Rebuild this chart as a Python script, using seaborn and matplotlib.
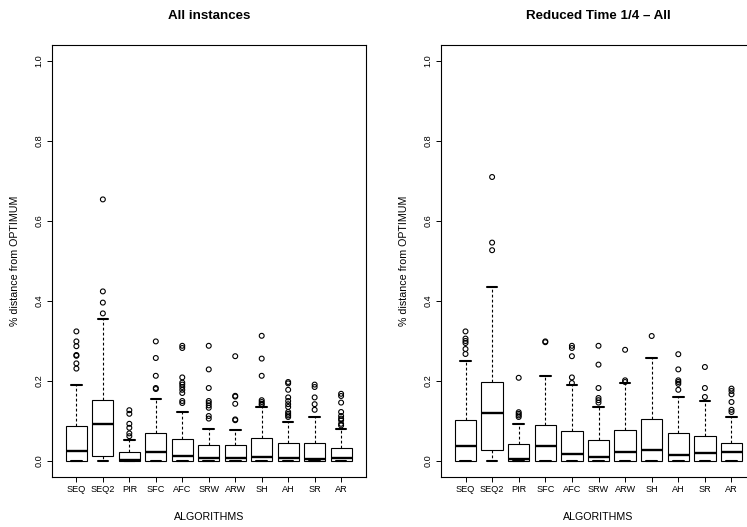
import numpy as np
import pandas as pd
import matplotlib
matplotlib.use("Agg")
import matplotlib.pyplot as plt
import seaborn as sns

# ---------------- data ----------------
algorithms = ["SEQ", "SEQ2", "PIR", "SFC", "AFC", "SRW", "ARW", "SH", "AH", "SR", "AR"]

# Panel 1: "All instances"  (box summaries)
all_whisker_low = [0.0, 0.0, 0.0, 0.0, 0.0, 0.0, 0.0, 0.0, 0.0, 0.0, 0.0]
all_q1 = [0.0, 0.0125, 0.0, 0.0, 0.0, 0.0, 0.0, 0.0, 0.0, 0.0, 0.0]
all_median = [0.024, 0.0925, 0.002, 0.0233, 0.0125, 0.0083, 0.0075, 0.010, 0.0075, 0.005, 0.0083]
all_q3 = [0.0867, 0.152, 0.0217, 0.070, 0.054, 0.041, 0.039, 0.0575, 0.044, 0.046, 0.0325]
all_whisker_high = [0.189, 0.356, 0.052, 0.156, 0.1225, 0.080, 0.0775, 0.136, 0.0975, 0.110, 0.079]
all_outliers = {
    "SEQ": [0.324, 0.299, 0.287, 0.265, 0.263, 0.244, 0.231],
    "SEQ2": [0.654, 0.424, 0.396, 0.369],
    "PIR": [0.127, 0.118, 0.093, 0.083, 0.069, 0.062],
    "SFC": [0.299, 0.2575, 0.213, 0.1825, 0.180],
    "AFC": [0.288, 0.2825, 0.209, 0.196, 0.191, 0.185, 0.178, 0.170, 0.150, 0.145],
    "SRW": [0.288, 0.229, 0.1825, 0.150, 0.145, 0.139, 0.133, 0.1125, 0.106],
    "ARW": [0.262, 0.163, 0.161, 0.143, 0.104, 0.102],
    "SH": [0.313, 0.256, 0.213, 0.152, 0.1475, 0.143, 0.140],
    "AH": [0.1975, 0.194, 0.178, 0.159, 0.150, 0.142, 0.135, 0.1225, 0.118, 0.114, 0.110],
    "SR": [0.191, 0.185, 0.159, 0.142, 0.128],
    "AR": [0.168, 0.1625, 0.146, 0.1225, 0.1125, 0.106, 0.102, 0.093, 0.089],
}

# Panel 2: "Reduced Time 1/4 - All"
red_whisker_low = [0.0, 0.0, 0.0, 0.0, 0.0, 0.0, 0.0, 0.0, 0.0, 0.0, 0.0]
red_q1 = [0.0, 0.0283, 0.0, 0.0, 0.0, 0.0, 0.0, 0.0, 0.0, 0.0, 0.0]
red_median = [0.0375, 0.120, 0.005, 0.0367, 0.0167, 0.0092, 0.0217, 0.0267, 0.015, 0.0208, 0.0217]
red_q3 = [0.1025, 0.197, 0.0433, 0.089, 0.076, 0.0533, 0.0775, 0.105, 0.070, 0.0625, 0.046]
red_whisker_high = [0.250, 0.435, 0.0917, 0.2125, 0.190, 0.135, 0.194, 0.2575, 0.160, 0.150, 0.110]
red_outliers = {
    "SEQ": [0.324, 0.306, 0.300, 0.295, 0.280, 0.2675],
    "SEQ2": [0.710, 0.546, 0.527],
    "PIR": [0.208, 0.122, 0.118, 0.114, 0.110],
    "SFC": [0.299, 0.297],
    "AFC": [0.288, 0.2825, 0.262, 0.209, 0.195],
    "SRW": [0.288, 0.241, 0.1825, 0.1575, 0.152, 0.146],
    "ARW": [0.278, 0.2017, 0.1975],
    "SH": [0.3125],
    "AH": [0.267, 0.229, 0.2017, 0.1975, 0.193, 0.178],
    "SR": [0.235, 0.1825, 0.160],
    "AR": [0.181, 0.175, 0.1667, 0.1475, 0.128, 0.1225],
}

y_ticks = [0.0, 0.2, 0.4, 0.6, 0.8, 1.0]
y_tick_labels = ["0.0", "0.2", "0.4", "0.6", "0.8", "1.0"]
titles = ["All instances", "Reduced Time 1/4 \u2013 All"]
x_label = "ALGORITHMS"
y_label = "% distance from OPTIMUM"

# ---------------- figure ----------------
sns.set_theme(style="white")
plt.rcParams["font.family"] = ["Liberation Sans", "DejaVu Sans"]

W, H = 747, 527
fig = plt.figure(figsize=(W / 100, H / 100), dpi=100)
fig.patch.set_facecolor("white")

ax_top_px, ax_bot_px = 45.0, 477.0
panels_px = [(51.5, 314.5), (440.5, 316.0)]


def box_frame(lo, q1, med, q3, hi):
    rows = []
    for i, alg in enumerate(algorithms):
        for v in (lo[i], q1[i], med[i], q3[i], hi[i]):
            rows.append({"alg": alg, "value": v})
    return pd.DataFrame(rows)


def out_frame(outs):
    rows = []
    for alg in algorithms:
        for v in outs.get(alg, []):
            rows.append({"alg": alg, "value": v})
    return pd.DataFrame(rows)


panel_data = [
    (all_whisker_low, all_q1, all_median, all_q3, all_whisker_high, all_outliers),
    (red_whisker_low, red_q1, red_median, red_q3, red_whisker_high, red_outliers),
]

for k, (left_px, width_px) in enumerate(panels_px):
    ax = fig.add_axes([left_px / W, (H - ax_bot_px) / H, width_px / W,
                       (ax_bot_px - ax_top_px) / H])
    ax.set_facecolor("white")
    lo, q1, med, q3, hi, outs = panel_data[k]
    bdf = box_frame(lo, q1, med, q3, hi)
    sns.boxplot(data=bdf, x="alg", y="value", order=algorithms, ax=ax,
                whis=(0, 100), showfliers=False, width=0.8,
                color="white", linecolor="black", linewidth=0.8,
                whiskerprops=dict(linestyle=(0, (2.5, 2.0)), linewidth=0.8),
                capprops=dict(linewidth=1.5),
                medianprops=dict(linewidth=1.7, color="black"))
    odf = out_frame(outs)
    sns.stripplot(data=odf, x="alg", y="value", order=algorithms, ax=ax,
                  jitter=False, size=3.5, color="black")
    for coll in ax.collections:
        coll.set_facecolor("none")
        coll.set_edgecolor("black")
        coll.set_linewidth(0.8)

    ax.set_xlim(-0.94, 10.94)
    ax.set_ylim(-0.04, 1.04)
    ax.set_yticks(y_ticks)
    ax.set_yticklabels(y_tick_labels, rotation=90, va="center")
    ax.set_xticks(range(len(algorithms)))
    ax.set_xticklabels(algorithms)
    ax.tick_params(axis="both", direction="out", length=3.6, width=0.7,
                   color="black", labelsize=6.6, labelcolor="black",
                   left=True, bottom=True)
    ax.tick_params(axis="x", pad=2.2)
    ax.tick_params(axis="y", pad=2.2)
    ax.set_xlabel("")
    ax.set_ylabel("")
    for s in ax.spines.values():
        s.set_visible(True)
        s.set_color("black")
        s.set_linewidth(0.8)
    ax.grid(False)

    hpx = ax_bot_px - ax_top_px
    ax.text(0.5, -(516.7 - ax_bot_px) / hpx, x_label, transform=ax.transAxes,
            ha="center", va="center", fontsize=7.7, color="black")
    ax.text(-36.5 / width_px, 0.5, y_label, transform=ax.transAxes,
            ha="center", va="center", rotation=90, fontsize=7.7, color="black")
    ax.text(0.5, 1 + (ax_top_px - 16.0) / hpx, titles[k], transform=ax.transAxes,
            ha="center", va="center", fontsize=9.6, fontweight="bold", color="black")

fig.savefig("out.png", dpi=100, facecolor="white")
